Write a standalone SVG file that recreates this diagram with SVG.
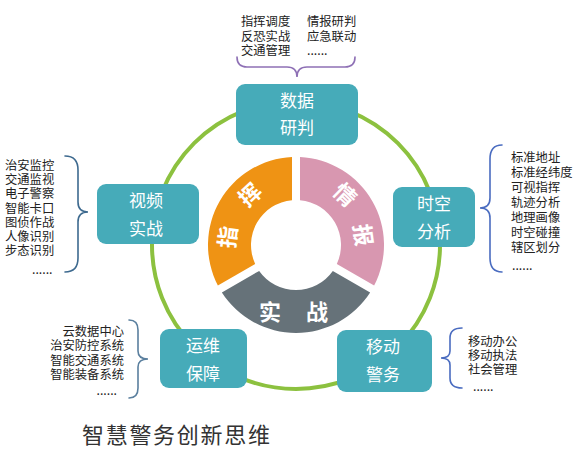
<svg xmlns="http://www.w3.org/2000/svg" width="587" height="456" viewBox="0 0 587 456">
<style>
.box{fill:#46abb9}
.bt{font-family:"Noto Sans CJK SC","Noto Sans",sans-serif;font-size:17px;fill:#fff;text-anchor:middle}
.lt{font-family:"Noto Sans CJK SC","Noto Sans",sans-serif;font-size:12.3px;fill:#222}
.dt{font-family:"Noto Sans CJK SC","Noto Sans",sans-serif;font-size:22px;font-weight:bold;fill:#fff;text-anchor:middle}
.br{fill:none;stroke-width:1.6;stroke-linecap:round}
</style>
<rect width="587" height="456" fill="#fff"/>
<g id="ring">
<circle cx="296" cy="245" r="144" fill="none" stroke="#8cc13f" stroke-width="4"/>
</g>
<g id="donut">
<path d="M300,157.09 A88,88 0 0 1 374.13,285.5 L336.82,263.95 A45,45 0 0 0 300,200.18 Z" fill="#d897b0"/>
<path d="M370.14,292.41 A88,88 0 0 1 221.86,292.41 L259.18,270.88 A45,45 0 0 0 332.82,270.88 Z" fill="#667279"/>
<path d="M217.87,285.5 A88,88 0 0 1 292,157.09 L292,200.18 A45,45 0 0 0 255.18,263.95 Z" fill="#ef9314"/>
<text class="dt" transform="translate(228,237) rotate(-83)" y="8">指</text>
<text class="dt" transform="translate(250,195) rotate(-43)" y="8">挥</text>
<text class="dt" transform="translate(345,195) rotate(44)" y="8">情</text>
<text class="dt" transform="translate(363,235) rotate(82)" y="8">报</text>
<text class="dt" x="270" y="320">实</text>
<text class="dt" x="317" y="320">战</text>
</g>
<g id="node-shuju">
<rect class="box" x="236" y="84" width="122" height="61" rx="9"/>
<text class="bt" x="297" y="106.5">数据</text>
<text class="bt" x="297" y="133.5">研判</text>
</g>
<g id="node-shipin">
<rect class="box" x="97" y="184" width="102" height="60" rx="9"/>
<text class="bt" x="146" y="206.5">视频</text>
<text class="bt" x="146" y="234.5">实战</text>
</g>
<g id="node-shikong">
<rect class="box" x="393" y="187" width="82" height="60" rx="9"/>
<text class="bt" x="434" y="209.5">时空</text>
<text class="bt" x="434" y="237.5">分析</text>
</g>
<g id="node-yunwei">
<rect class="box" x="160" y="329" width="87" height="59" rx="9"/>
<text class="bt" x="203" y="351.5">运维</text>
<text class="bt" x="203" y="379.5">保障</text>
</g>
<g id="node-yidong">
<rect class="box" x="337" y="330" width="95" height="62" rx="9"/>
<text class="bt" x="383" y="352.5">移动</text>
<text class="bt" x="383" y="380.5">警务</text>
</g>
<g id="connectors">
<path class="br" stroke="#8e70b5" d="M237,57 Q237,67 247,67 L287,67 Q297,67 297,77 Q297,67 307,67 L345,67 Q355,67 355,57"/>
<path class="br" stroke="#3e6a8f" d="M65,156 Q78,156 78,170 L78,202 Q78,212 88,212 Q78,212 78,222 L78,258 Q78,272 65,272"/>
<path class="br" stroke="#4a6cc0" d="M502,145 Q490,145 490,159 L490,198 Q490,208 480,208 Q490,208 490,218 L490,258 Q490,272 502,272"/>
<path class="br" stroke="#5a7f9e" d="M129,320 Q138,320 138,330 L138,351 Q138,359 148,359 Q138,359 138,367 L138,388 Q138,398 129,398"/>
<path class="br" stroke="#4a6cc0" d="M462,328 Q450,328 450,338 L450,351 Q450,358 441,358 Q450,358 450,365 L450,378 Q450,388 462,388"/>
</g>
<g id="list-top">
<text class="lt" x="241" y="26">指挥调度</text>
<text class="lt" x="241" y="40.5">反恐实战</text>
<text class="lt" x="241" y="55">交通管理</text>
<text class="lt" x="307" y="26">情报研判</text>
<text class="lt" x="307" y="40.5">应急联动</text>
<text class="lt" x="307" y="55">......</text>
</g>
<g id="list-left">
<text class="lt" x="5" y="170">治安监控</text>
<text class="lt" x="5" y="184">交通监视</text>
<text class="lt" x="5" y="198">电子警察</text>
<text class="lt" x="5" y="212.5">智能卡口</text>
<text class="lt" x="5" y="227">图侦作战</text>
<text class="lt" x="5" y="241">人像识别</text>
<text class="lt" x="5" y="255">步态识别</text>
<text class="lt" x="32" y="274">......</text>
</g>
<g id="list-right">
<text class="lt" x="511" y="162">标准地址</text>
<text class="lt" x="511" y="177">标准经纬度</text>
<text class="lt" x="511" y="192">可视指挥</text>
<text class="lt" x="511" y="207">轨迹分析</text>
<text class="lt" x="511" y="222">地理画像</text>
<text class="lt" x="511" y="237">时空碰撞</text>
<text class="lt" x="511" y="252">辖区划分</text>
<text class="lt" x="512" y="270">......</text>
</g>
<g id="list-yunwei">
<text class="lt" x="124" y="336" text-anchor="end">云数据中心</text>
<text class="lt" x="124" y="350" text-anchor="end">治安防控系统</text>
<text class="lt" x="124" y="365" text-anchor="end">智能交通系统</text>
<text class="lt" x="124" y="379" text-anchor="end">智能装备系统</text>
<text class="lt" x="117" y="395" text-anchor="end">......</text>
</g>
<g id="list-yidong">
<text class="lt" x="468" y="346">移动办公</text>
<text class="lt" x="468" y="360">移动执法</text>
<text class="lt" x="468" y="374">社会管理</text>
<text class="lt" x="473" y="391">......</text>
</g>
<text x="82" y="443" font-family="'Noto Sans CJK SC','Noto Sans',sans-serif" font-size="22" letter-spacing="1.7" fill="#333">智慧警务创新思维</text>
</svg>
